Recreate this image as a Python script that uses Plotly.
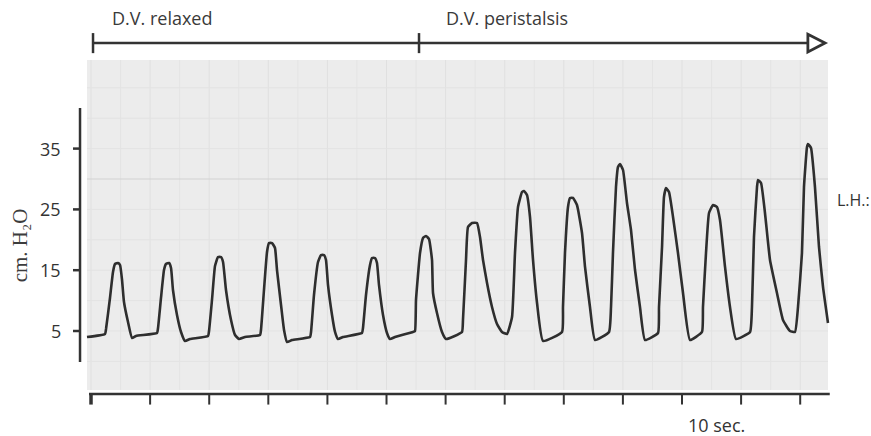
import plotly.graph_objects as go

# ---- data (time in tick units, pressure in cm H2O) ----
time_s = [
    -0.068, 0.237, 0.254, 0.321, 0.372, 0.406, 0.457, 0.491, 0.525, 0.558, 0.626, 0.694, 0.761, 1.117,
    1.134, 1.184, 1.235, 1.269, 1.320, 1.354, 1.387, 1.455, 1.523, 1.591, 1.675, 1.980,
    1.997, 2.047, 2.098, 2.149, 2.200, 2.234, 2.284, 2.369, 2.437, 2.504, 2.606, 2.860,
    2.876, 2.927, 2.978, 3.012, 3.063, 3.113, 3.147, 3.215, 3.266, 3.316, 3.401, 3.706,
    3.723, 3.773, 3.841, 3.892, 3.942, 3.976, 4.010, 4.078, 4.129, 4.179, 4.264, 4.585,
    4.602, 4.653, 4.721, 4.755, 4.805, 4.839, 4.873, 4.941, 5.008, 5.059, 5.144, 5.448,
    5.482, 5.499, 5.567, 5.618, 5.668, 5.719, 5.770, 5.787, 5.854, 5.939, 6.007, 6.277,
    6.294, 6.345, 6.379, 6.447, 6.531, 6.582, 6.633, 6.701, 6.785, 6.870, 6.954, 7.039,
    7.124, 7.174, 7.225, 7.293, 7.327, 7.377, 7.428, 7.479, 7.547, 7.648, 7.970,
    7.986, 8.020, 8.071, 8.105, 8.156, 8.223, 8.308, 8.359, 8.443, 8.528, 8.765,
    8.799, 8.832, 8.883, 8.917, 8.951, 9.002, 9.069, 9.137, 9.205, 9.289, 9.374, 9.594,
    9.611, 9.662, 9.695, 9.729, 9.780, 9.848, 9.932, 10.017, 10.135, 10.338,
    10.355, 10.406, 10.457, 10.525, 10.592, 10.643, 10.728, 10.812, 10.914, 11.151,
    11.184, 11.218, 11.269, 11.286, 11.337, 11.404, 11.489, 11.607, 11.709, 11.827, 11.912,
    11.963, 12.030, 12.064, 12.115, 12.132, 12.183, 12.250, 12.318, 12.386, 12.470,
]
pressure = [
    4.01, 4.51, 5.33, 10.43, 14.70, 16.02, 16.18, 15.86, 13.39, 9.77, 6.48, 3.85, 4.18, 4.67,
    5.49, 10.43, 15.03, 16.02, 16.18, 15.36, 11.74, 7.63, 4.84, 3.36, 3.68, 4.18,
    5.00, 10.10, 15.69, 17.17, 17.17, 16.35, 11.74, 6.81, 4.34, 3.68, 4.01, 4.34,
    5.16, 11.74, 17.99, 19.47, 19.47, 18.65, 15.03, 9.28, 5.16, 3.19, 3.52, 4.01,
    4.84, 10.92, 16.35, 17.50, 17.50, 16.68, 12.57, 7.63, 4.84, 3.68, 4.01, 4.67,
    5.49, 10.92, 15.86, 17.01, 17.01, 16.18, 12.57, 7.63, 4.67, 3.68, 4.01, 4.84,
    5.00, 10.10, 17.83, 20.30, 20.63, 20.13, 16.68, 11.25, 7.96, 4.84, 3.68, 4.84,
    6.81, 16.68, 22.11, 22.76, 22.76, 20.46, 16.68, 12.89, 8.95, 6.15, 4.84, 4.51,
    7.30, 17.83, 25.39, 27.86, 28.03, 27.37, 23.75, 16.68, 9.61, 3.36, 4.84,
    8.95, 17.83, 25.39, 26.88, 26.88, 25.72, 21.12, 15.53, 8.95, 3.52, 4.84,
    8.95, 17.83, 28.68, 31.97, 32.47, 31.48, 26.05, 21.61, 15.03, 8.95, 3.52, 4.67,
    8.95, 18.82, 27.04, 28.52, 27.86, 23.75, 17.83, 11.25, 3.52, 4.84,
    8.95, 17.83, 24.41, 25.72, 25.39, 23.26, 15.53, 8.95, 3.68, 4.84,
    8.95, 20.46, 28.68, 29.84, 29.34, 24.41, 16.68, 11.25, 6.81, 5.00, 4.84,
    8.95, 17.83, 28.68, 35.26, 35.76, 35.10, 28.68, 18.82, 12.24, 6.32,
]

y_ticks = [5, 15, 25, 35]
y_tick_labels = ["5", "15", "25", "35"]
x_ticks = list(range(13))
phase_labels = ["D.V. relaxed", "D.V. peristalsis"]
phase_starts = [0.034, 5.55]
phase_end = 12.13
y_title = "cm. H\u2082O"
time_label = "10 sec."
side_label = "L.H.:"

# ---- geometry (data coordinates) ----
X0, X1 = -1.540, 13.198
Y0, Y1 = -12.27, 59.44
paper_x = (-0.068, 12.47)
paper_y = (-4.70, 49.57)
ink = "#333333"

fig = go.Figure()

shapes = []
# recording paper
shapes.append(dict(type="rect", xref="x", yref="y", x0=paper_x[0], x1=paper_x[1],
                   y0=paper_y[0], y1=paper_y[1], fillcolor="#ececec", line=dict(width=0), layer="below"))
# faint grid on paper
k = 0.0
while k <= 12.45:
    shapes.append(dict(type="line", xref="x", yref="y", x0=k, x1=k, y0=paper_y[0], y1=paper_y[1],
                       line=dict(color="#e4e4e4" if k % 1 else "#e0e0e0", width=1), layer="below"))
    k += 0.5
for gv in range(0, 50, 5):
    shapes.append(dict(type="line", xref="x", yref="y", x0=paper_x[0], x1=paper_x[1], y0=gv, y1=gv,
                       line=dict(color="#d2d2d2" if gv == 30 else "#e3e3e3", width=1.2 if gv == 30 else 1),
                       layer="below"))

# y axis line and ticks
shapes.append(dict(type="line", xref="x", yref="y", x0=-0.186, x1=-0.186, y0=-0.10, y1=41.68,
                   line=dict(color=ink, width=2.5)))
for yv in y_ticks:
    shapes.append(dict(type="line", xref="x", yref="y", x0=-0.305, x1=-0.186, y0=yv, y1=yv,
                       line=dict(color=ink, width=2.5)))

# time axis and ticks
shapes.append(dict(type="line", xref="x", yref="y", x0=-0.034, x1=12.50, y0=-5.36, y1=-5.36,
                   line=dict(color=ink, width=2.5)))
for xv in x_ticks:
    shapes.append(dict(type="line", xref="x", yref="y", x0=xv, x1=xv, y0=-5.36, y1=-7.1,
                       line=dict(color=ink, width=3.5 if xv == 0 else 2)))

# phase bracket with arrow
bracket_y = 52.37
shapes.append(dict(type="line", xref="x", yref="y", x0=phase_starts[0], x1=phase_end, y0=bracket_y, y1=bracket_y,
                   line=dict(color=ink, width=2.5)))
for xs in phase_starts:
    shapes.append(dict(type="line", xref="x", yref="y", x0=xs, x1=xs, y0=50.7, y1=54.0,
                       line=dict(color=ink, width=2.5)))
tri_x0, tri_x1 = 12.13, 12.42
shapes.append(dict(type="path", xref="x", yref="y",
                   path=f"M {tri_x0},53.8 L {tri_x1},{bracket_y} L {tri_x0},50.9 Z",
                   fillcolor="white", line=dict(color=ink, width=2.8)))

fig.add_trace(go.Scatter(x=time_s, y=pressure, mode="lines",
                         line=dict(color="#2e2e2e", width=2.6, shape="spline", smoothing=0.4),
                         hoverinfo="skip", showlegend=False))

annotations = []
sans = "Open Sans"
for lab, xs in zip(phase_labels, [0.321, 5.973]):
    annotations.append(dict(x=xs, y=56.5, xref="x", yref="y", text=lab, showarrow=False,
                            xanchor="left", yanchor="middle", font=dict(family=sans, size=18, color="#3a3a3a")))
for yv, lab in zip(y_ticks, y_tick_labels):
    annotations.append(dict(x=-0.474, y=yv, xref="x", yref="y", text=lab, showarrow=False,
                            xanchor="right", yanchor="middle", font=dict(family=sans, size=18, color="#333333")))
annotations.append(dict(x=-1.20, y=19.1, xref="x", yref="y", text=y_title, showarrow=False, textangle=-90,
                        xanchor="center", yanchor="middle",
                        font=dict(family="Liberation Serif", size=21, color="#3c3c3c")))
annotations.append(dict(x=10.59, y=-10.46, xref="x", yref="y", text=time_label, showarrow=False,
                        xanchor="center", yanchor="middle", font=dict(family=sans, size=18, color="#333333")))
annotations.append(dict(x=12.59, y=26.5, xref="x", yref="y", text=side_label, showarrow=False,
                        xanchor="left", yanchor="middle", font=dict(family=sans, size=16, color="#333333")))

fig.update_layout(
    width=871, height=436, margin=dict(l=0, r=0, t=0, b=0),
    paper_bgcolor="white", plot_bgcolor="white",
    xaxis=dict(range=[X0, X1], visible=False, fixedrange=True),
    yaxis=dict(range=[Y0, Y1], visible=False, fixedrange=True),
    shapes=shapes, annotations=annotations,
)

fig.write_html("out.html")
